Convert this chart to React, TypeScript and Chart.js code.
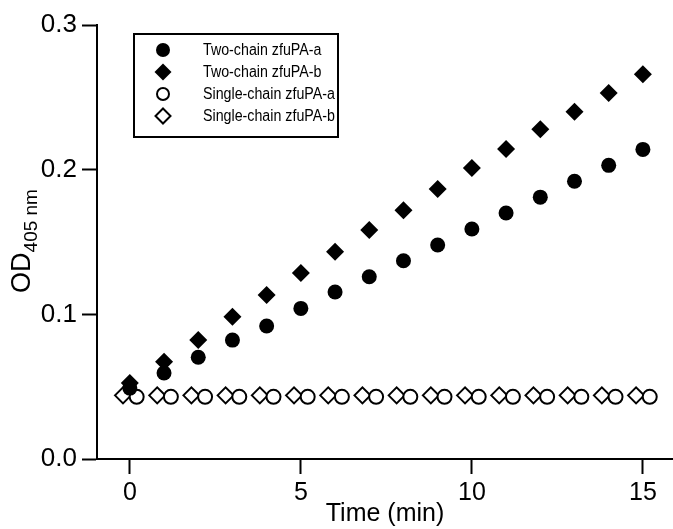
import React, { useEffect, useRef } from "react";
import { Chart, registerables } from "chart.js";

Chart.register(...registerables);

const minutes = [0, 1, 2, 3, 4, 5, 6, 7, 8, 9, 10, 11, 12, 13, 14, 15];
const twoChainA = [0.049, 0.0594, 0.0703, 0.0822, 0.0919, 0.1041, 0.1154, 0.126, 0.137, 0.1479, 0.159, 0.17, 0.181, 0.192, 0.203, 0.214];
const twoChainB = [0.0525, 0.0672, 0.0822, 0.0983, 0.1133, 0.1285, 0.1433, 0.1583, 0.172, 0.1866, 0.2011, 0.2142, 0.228, 0.24, 0.253, 0.266];
const singleChainAMinutes = [0.2, 1.2, 2.2, 3.2, 4.2, 5.2, 6.2, 7.2, 8.2, 9.2, 10.2, 11.2, 12.2, 13.2, 14.2, 15.2];
const singleChainA = [0.043, 0.043, 0.043, 0.043, 0.043, 0.043, 0.043, 0.043, 0.043, 0.043, 0.043, 0.043, 0.043, 0.043, 0.043, 0.043];
const singleChainBMinutes = [-0.2, 0.8, 1.8, 2.8, 3.8, 4.8, 5.8, 6.8, 7.8, 8.8, 9.8, 10.8, 11.8, 12.8, 13.8, 14.8];
const singleChainB = [0.044, 0.044, 0.044, 0.044, 0.044, 0.044, 0.044, 0.044, 0.044, 0.044, 0.044, 0.044, 0.044, 0.044, 0.044, 0.044];

const seriesNames = ["Two-chain zfuPA-a", "Two-chain zfuPA-b", "Single-chain zfuPA-a", "Single-chain zfuPA-b"];
const xTicks = [0, 5, 10, 15];
const yTicks = [0, 0.1, 0.2, 0.3];
const xTitle = "Time (min)";
const yTitleMain = "OD";
const yTitleSub = "405 nm";

const FONT = '"Liberation Sans", Arial, Helvetica, sans-serif';

function pairs(xs: number[], ys: number[]) {
  return xs.map((x, i) => ({ x, y: ys[i] }));
}

const overlayPlugin = {
  id: "overlay",
  afterDraw(chart: any) {
    const ctx = chart.ctx as CanvasRenderingContext2D;
    const area = chart.chartArea;
    ctx.save();
    ctx.fillStyle = "#000";
    ctx.strokeStyle = "#000";

    // x title
    ctx.font = `25px ${FONT}`;
    ctx.textAlign = "center";
    ctx.textBaseline = "alphabetic";
    ctx.fillText(xTitle, (area.left + area.right) / 2, 521);

    // y title with subscript
    ctx.save();
    ctx.translate(30, (area.top + area.bottom) / 2 - 1);
    ctx.rotate(-Math.PI / 2);
    ctx.font = `27px ${FONT}`;
    const wMain = ctx.measureText(yTitleMain).width;
    ctx.font = `19px ${FONT}`;
    const wSub = ctx.measureText(yTitleSub).width;
    const start = -(wMain + wSub) / 2;
    ctx.textAlign = "left";
    ctx.font = `27px ${FONT}`;
    ctx.fillText(yTitleMain, start, 0);
    ctx.font = `19px ${FONT}`;
    ctx.fillText(yTitleSub, start + wMain, 7);
    ctx.restore();

    // legend
    ctx.lineWidth = 2;
    ctx.strokeRect(134, 34, 204, 103);
    const rows = [50, 72, 94, 116];
    const mx = 163;
    rows.forEach((ry, i) => {
      ctx.lineWidth = 2;
      ctx.beginPath();
      if (i === 0) {
        ctx.arc(mx, ry, 7, 0, Math.PI * 2);
        ctx.fill();
      } else if (i === 1) {
        const r = 8.5;
        ctx.moveTo(mx, ry - r);
        ctx.lineTo(mx + r, ry);
        ctx.lineTo(mx, ry + r);
        ctx.lineTo(mx - r, ry);
        ctx.closePath();
        ctx.fill();
      } else if (i === 2) {
        ctx.arc(mx, ry, 6, 0, Math.PI * 2);
        ctx.stroke();
      } else {
        const r = 7.5;
        ctx.moveTo(mx, ry - r);
        ctx.lineTo(mx + r, ry);
        ctx.lineTo(mx, ry + r);
        ctx.lineTo(mx - r, ry);
        ctx.closePath();
        ctx.stroke();
      }
      ctx.save();
      ctx.translate(203, ry + 1);
      ctx.scale(0.89, 1);
      ctx.font = `16px ${FONT}`;
      ctx.textAlign = "left";
      ctx.textBaseline = "middle";
      ctx.fillText(seriesNames[i], 0, 0);
      ctx.restore();
    });
    ctx.restore();
  },
};

export default function App() {
  const ref = useRef<HTMLCanvasElement | null>(null);

  useEffect(() => {
    document.body.style.margin = "0";
    const canvas = ref.current;
    if (!canvas) return;
    const chart = new Chart(canvas, {
      type: "scatter",
      data: {
        datasets: [
          {
            label: seriesNames[3],
            data: pairs(singleChainBMinutes, singleChainB),
            pointStyle: "rectRot",
            pointRadius: 8,
            backgroundColor: "#fff",
            borderColor: "#000",
            borderWidth: 2,
            order: 4,
          },
          {
            label: seriesNames[2],
            data: pairs(singleChainAMinutes, singleChainA),
            pointStyle: "circle",
            pointRadius: 7,
            backgroundColor: "#fff",
            borderColor: "#000",
            borderWidth: 2,
            order: 3,
          },
          {
            label: seriesNames[0],
            data: pairs(minutes, twoChainA),
            pointStyle: "circle",
            pointRadius: 7.5,
            backgroundColor: "#000",
            borderColor: "#000",
            borderWidth: 0,
            order: 2,
          },
          {
            label: seriesNames[1],
            data: pairs(minutes, twoChainB),
            pointStyle: "rectRot",
            pointRadius: 9,
            backgroundColor: "#000",
            borderColor: "#000",
            borderWidth: 0,
            order: 1,
          },
        ],
      },
      options: {
        responsive: false,
        animation: false,
        events: [],
        layout: { padding: { top: 25, left: 0, right: 0, bottom: 0 } },
        plugins: {
          legend: { display: false },
          tooltip: { enabled: false },
          title: { display: false },
        },
        scales: {
          x: {
            type: "linear",
            min: -0.96,
            max: 15.88,
            afterBuildTicks: (s: any) => {
              s.ticks = xTicks.map((v) => ({ value: v }));
            },
            afterFit: (s: any) => {
              s.height = 70;
            },
            grid: {
              display: true,
              drawOnChartArea: false,
              drawTicks: true,
              tickLength: 15,
              tickColor: "#000",
              tickWidth: 2,
            },
            border: { display: true, color: "#000", width: 2 },
            ticks: {
              color: "#000",
              font: { family: FONT, size: 25 },
              padding: 4,
              maxRotation: 0,
              callback: (v: any) => String(v),
            },
          },
          y: {
            type: "linear",
            min: 0,
            max: 0.3,
            afterBuildTicks: (s: any) => {
              s.ticks = yTicks.map((v) => ({ value: v }));
            },
            afterFit: (s: any) => {
              s.width = 97;
            },
            grid: {
              display: true,
              drawOnChartArea: false,
              drawTicks: true,
              tickLength: 15,
              tickColor: "#000",
              tickWidth: 2,
            },
            border: { display: true, color: "#000", width: 2 },
            ticks: {
              color: "#000",
              font: { family: FONT, size: 26 },
              padding: 5,
              callback: (v: any) => Number(v).toFixed(1),
            },
          },
        },
      },
      plugins: [overlayPlugin],
    } as any);
    return () => chart.destroy();
  }, []);

  return (
    <div style={{ width: 673, height: 529, overflow: "hidden" }}>
      <canvas ref={ref} width={683} height={529} style={{ display: "block" }} />
    </div>
  );
}
